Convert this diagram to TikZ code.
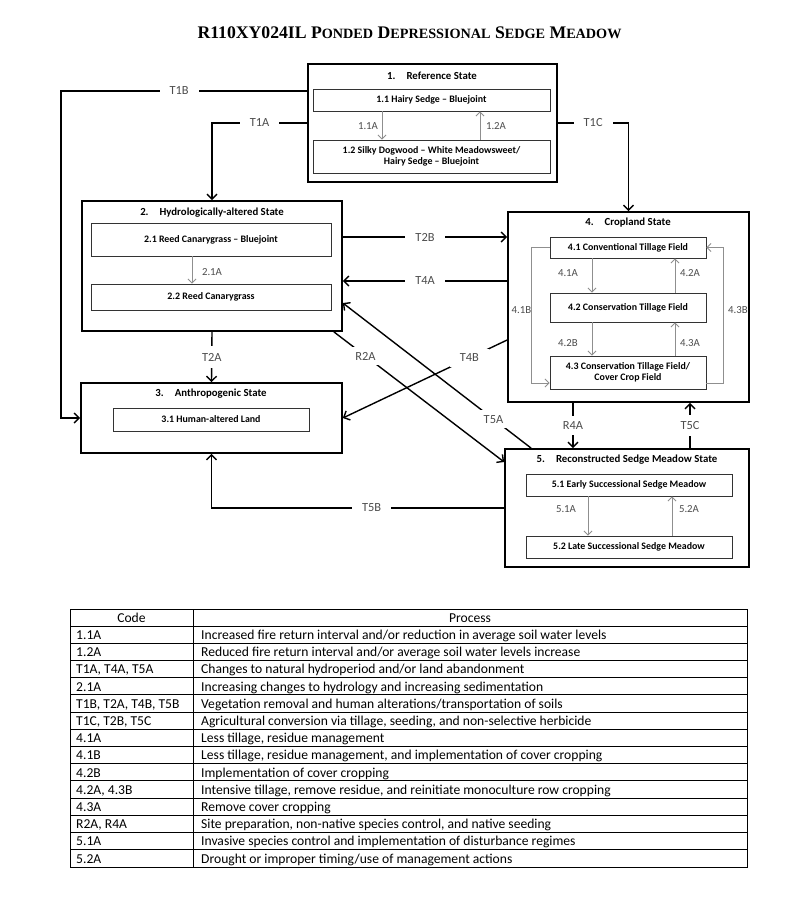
\documentclass[tikz,border=0pt]{standalone}
\usepackage{fontspec}
\setmainfont{Carlito}
\newfontfamily\ttlfont{Liberation Serif}
\usetikzlibrary{arrows.meta}
\definecolor{lblgray}{HTML}{4D4D4D}
\definecolor{arrgray}{HTML}{8F8F8F}
\definecolor{boxgray}{HTML}{333333}
\newcommand\smcp[1]{{\fontsize{14.2}{14}\selectfont #1}}
\begin{document}
\begin{tikzpicture}[x=1pt,y=-1pt,
  statebox/.style={draw=black,line width=1.7pt,inner sep=0pt},
  subbox/.style={draw=boxgray,line width=0.9pt,inner sep=0pt,align=center,font=\fontsize{9.9}{11.5}\selectfont\bfseries},
  stitle/.style={inner sep=0pt,font=\fontsize{10.8}{12}\selectfont\bfseries},
  trans/.style={draw=black,line width=1.4pt},
  tarrow/.style={trans,-{Straight Barb[length=5pt,width=10pt]}},
  tlabel/.style={fill=white,text=lblgray,inner xsep=10pt,inner ysep=5pt,font=\fontsize{12.4}{13}\selectfont},
  iarrow/.style={draw=arrgray,line width=0.9pt,-{Straight Barb[length=4pt,width=8pt]}},
  ilabel/.style={text=lblgray,inner sep=0pt,font=\fontsize{10.8}{12}\selectfont},
  cell/.style={inner sep=0pt,anchor=base west,font=\fontsize{13.6}{14}\selectfont},
  hcell/.style={inner sep=0pt,anchor=base,font=\fontsize{13.6}{14}\selectfont}
]
\fill[white] (0,0) rectangle (800,898);
\useasboundingbox (0,0) rectangle (800,898);

% title
\node[inner sep=0pt,font=\ttlfont\bfseries\fontsize{17.7}{18}\selectfont] (title) at (409.5,33)
  {R110XY024IL P\smcp{ONDED} D\smcp{EPRESSIONAL} S\smcp{EDGE} M\smcp{EADOW}};

% 1 Reference state
\node[statebox,minimum width=249pt,minimum height=118pt] (ref) at (432.5,123) {};
\node[stitle] (reft) at (432,76) {1.\hspace{11pt}Reference State};
\node[subbox,minimum width=237pt,minimum height=22pt] (s11) at (431.5,100) {1.1 Hairy Sedge -- Bluejoint};
\node[subbox,minimum width=237pt,minimum height=33pt] (s12) at (431.5,156.5) {1.2 Silky Dogwood -- White Meadowsweet/\\Hairy Sedge -- Bluejoint};
\draw[iarrow] ([xshift=-49.5pt]s11.south) -- ([xshift=-49.5pt]s12.north);
\draw[iarrow] ([xshift=48.5pt]s12.north) -- ([xshift=48.5pt]s11.south);
\node[ilabel] (l11a) at (368,126) {1.1A};
\node[ilabel] (l12a) at (496,126) {1.2A};

% 2 Hydrologically-altered
\node[statebox,minimum width=260pt,minimum height=130pt] (hyd) at (212,266) {};
\node[stitle] (hydt) at (212,213) {2.\hspace{11pt}Hydrologically-altered State};
\node[subbox,minimum width=240pt,minimum height=33pt] (s21) at (211,239.5) {2.1 Reed Canarygrass -- Bluejoint};
\node[subbox,minimum width=240pt,minimum height=26pt] (s22) at (211,297) {2.2 Reed Canarygrass};
\draw[iarrow] ([xshift=-19pt]s21.south) -- ([xshift=-19pt]s22.north);
\node[ilabel] (l21a) at (212,272) {2.1A};

% 3 Anthropogenic
\node[statebox,minimum width=261pt,minimum height=70pt] (ant) at (211.5,418) {};
\node[stitle] (antt) at (211,394) {3.\hspace{11pt}Anthropogenic State};
\node[subbox,minimum width=196pt,minimum height=23pt] (s31) at (211,419.5) {3.1 Human-altered Land};

% 4 Cropland
\node[statebox,minimum width=241pt,minimum height=190pt] (crop) at (628.5,307) {};
\node[stitle] (cropt) at (628,223) {4.\hspace{11pt}Cropland State};
\node[subbox,minimum width=156pt,minimum height=21pt] (s41) at (628,247.5) {4.1 Conventional Tillage Field};
\node[subbox,minimum width=156pt,minimum height=29pt] (s42) at (628,307.5) {4.2 Conservation Tillage Field};
\node[subbox,minimum width=156pt,minimum height=33pt] (s43) at (628,372.5) {4.3 Conservation Tillage Field/\\Cover Crop Field};
\draw[iarrow] ([xshift=-36pt]s41.south) -- ([xshift=-36pt]s42.north);
\draw[iarrow] ([xshift=47pt]s42.north) -- ([xshift=47pt]s41.south);
\draw[iarrow] ([xshift=-36pt]s42.south) -- ([xshift=-36pt]s43.north);
\draw[iarrow] ([xshift=47pt]s43.north) -- ([xshift=47pt]s42.south);
\draw[iarrow] (s41.west) -- ++(-18,0) |- ([yshift=-10.5pt]s43.west);
\draw[iarrow] ([yshift=-10.5pt]s43.east) -- ++(17,0) |- (s41.east);
\node[ilabel] (l41a) at (568,273) {4.1A};
\node[ilabel] (l42a) at (690,273) {4.2A};
\node[ilabel] (l42b) at (568,343) {4.2B};
\node[ilabel] (l43a) at (690,343) {4.3A};
\node[ilabel] (l41b) at (521.5,310) {4.1B};
\node[ilabel] (l43b) at (738,310) {4.3B};

% 5 Reconstructed
\node[statebox,minimum width=244pt,minimum height=118pt] (rec) at (627,508) {};
\node[stitle] (rect) at (627,460) {5.\hspace{11pt}Reconstructed Sedge Meadow State};
\node[subbox,minimum width=206pt,minimum height=22pt] (s51) at (629,485) {5.1 Early Successional Sedge Meadow};
\node[subbox,minimum width=206pt,minimum height=22pt] (s52) at (629,547) {5.2 Late Successional Sedge Meadow};
\draw[iarrow] ([xshift=-41pt]s51.south) -- ([xshift=-41pt]s52.north);
\draw[iarrow] ([xshift=43pt]s52.north) -- ([xshift=43pt]s51.south);
\node[ilabel] (l51a) at (566,509) {5.1A};
\node[ilabel] (l52a) at (689,509) {5.2A};

% transitions
\coordinate (c1b) at (61,418);
\draw[tarrow] ([yshift=32pt]ref.west) -- node[tlabel,pos=0.52] (t1b) {T1B} (c1b |- 0,91) -- (c1b) -- (ant.west);
\draw[tarrow] (ref.west) -- node[tlabel] (t1a) {T1A} (hyd.north |- ref.west) -- (hyd.north);
\draw[tarrow] (ref.east) -- node[tlabel] (t1c) {T1C} (crop.north |- ref.east) -- (crop.north);
\coordinate (t2bs) at ([yshift=29pt]hyd.east);
\draw[tarrow] (t2bs) -- node[tlabel] (t2b) {T2B} (t2bs -| crop.west);
\coordinate (t4ae) at ([yshift=-15pt]hyd.east);
\draw[tarrow] (t4ae -| crop.west) -- node[tlabel] (t4a) {T4A} (t4ae);
\draw[tarrow] (hyd.south) -- node[tlabel,inner ysep=7pt] (t2a) {T2A} (ant.north);
\draw[tarrow] ([yshift=-33pt]crop.west) -- node[tlabel,pos=0.23] (t4b) {T4B} (ant.east);
\draw[tarrow] ([xshift=27pt]rec.north west) -- node[tlabel,pos=0.2] (t5a) {T5A} ([yshift=-37pt]hyd.east);
\draw[tarrow] ([xshift=-9pt]hyd.south east) -- node[tlabel,pos=0.186] (r2a) {R2A} ([yshift=46pt]rec.west);
\draw[tarrow] ([xshift=-55.5pt]crop.south) -- node[tlabel,inner ysep=6pt] (r4a) {R4A} ([xshift=-54pt]rec.north);
\draw[tarrow] ([xshift=63pt]rec.north) -- node[tlabel,inner ysep=6pt] (t5c) {T5C} ([xshift=61.5pt]crop.south);
\draw[tarrow] (rec.west) -- node[tlabel,pos=0.453] (t5b) {T5B} (ant.south |- rec.west) -- (ant.south);

% table
\draw[line width=0.9pt] (70,609) rectangle (747,867);
\draw[line width=0.9pt] (193,609) -- (193,867);
\draw[line width=0.9pt] (70,626) -- (747,626);
\foreach \k in {1,...,13} {
  \draw[line width=0.9pt] (70,626+17.2*\k) -- (747,626+17.2*\k);
}
\node[hcell] (hcode) at (131.5,622.2) {Code};
\node[hcell] (hproc) at (470,622.2) {Process};
\foreach \i/\c/\p in {
 1/{1.1A}/{Increased fire return interval and/or reduction in average soil water levels},
 2/{1.2A}/{Reduced fire return interval and/or average soil water levels increase},
 3/{T1A, T4A, T5A}/{Changes to natural hydroperiod and/or land abandonment},
 4/{2.1A}/{Increasing changes to hydrology and increasing sedimentation},
 5/{T1B, T2A, T4B, T5B}/{Vegetation removal and human alterations/transportation of soils},
 6/{T1C, T2B, T5C}/{Agricultural conversion via tillage, seeding, and non-selective herbicide},
 7/{4.1A}/{Less tillage, residue management},
 8/{4.1B}/{Less tillage, residue management, and implementation of cover cropping},
 9/{4.2B}/{Implementation of cover cropping},
 10/{4.2A, 4.3B}/{Intensive tillage, remove residue, and reinitiate monoculture row cropping},
 11/{4.3A}/{Remove cover cropping},
 12/{R2A, R4A}/{Site preparation, non-native species control, and native seeding},
 13/{5.1A}/{Invasive species control and implementation of disturbance regimes},
 14/{5.2A}/{Drought or improper timing/use of management actions}} {
  \node[cell] (code\i) at (76,626+17.2*\i-3.8) {\c};
  \node[cell] (proc\i) at (201,626+17.2*\i-3.8) {\p};
}
\end{tikzpicture}
\end{document}
